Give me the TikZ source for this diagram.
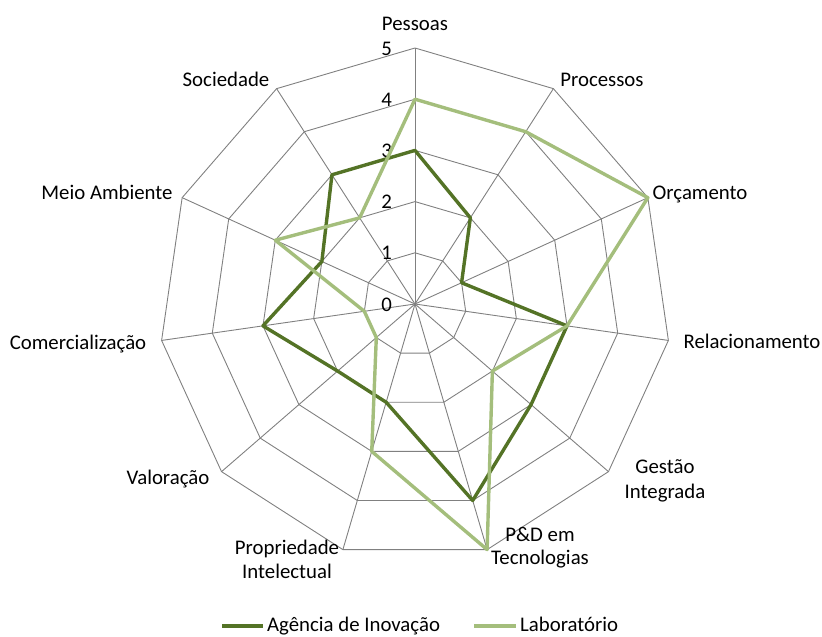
\documentclass[tikz,border=0pt]{standalone}
\usepackage{fontspec}
\setmainfont{Carlito}
\definecolor{gridgray}{RGB}{128,128,128}
\definecolor{darkg}{RGB}{84,115,38}
\definecolor{lightg}{RGB}{164,190,124}
\begin{document}
\begin{tikzpicture}[x=1pt,y=1pt,
  grid/.style={draw=gridgray,line width=0.9pt},
  series/.style={line width=3.4pt,line join=round},
  lbl/.style={font=\fontsize{20.8}{24}\selectfont,inner sep=0pt,anchor=base},
  lblw/.style={font=\fontsize{20.8}{24}\selectfont,inner sep=0pt,anchor=base west},
  tick/.style={font=\fontsize{20.8}{24}\selectfont,inner sep=0pt,anchor=base east}]
\useasboundingbox (0,-637) rectangle (822,0);
\def\u{51.2}
\begin{scope}[shift={(415,-304)}]
  % rings
  \foreach \r in {1,...,5} {
    \draw[grid] (90:{\r*\u}) \foreach \k in {1,...,10} { -- ({90-\k*360/11}:{\r*\u}) } -- cycle;
  }
  % spokes
  \foreach \k in {0,...,10}
    \draw[grid] (0,0) -- ({90-\k*360/11}:{5*\u});
  % tick labels
  \foreach \v in {0,...,5}
    \node[tick] (t\v) at (-23,{\v*\u-7}) {\v};
  % series
  \draw[series,darkg] (90:{3*\u}) \foreach \v [count=\k] in {2,1,3,3,4,2,2,3,2,3} { -- ({90-\k*360/11}:{\v*\u}) } -- cycle;
  \draw[series,lightg] (90:{4*\u}) \foreach \v [count=\k] in {4,5,3,2,5,3,1,1,3,2} { -- ({90-\k*360/11}:{\v*\u}) } -- cycle;
\end{scope}
% axis labels
\node[lbl] (pess) at (415,-30) {Pessoas};
\node[lbl] (proc) at (602,-86) {Processos};
\node[lbl] (orca) at (700,-199) {Orçamento};
\node[lbl] (rela) at (752,-348) {Relacionamento};
\node[lbl] (gest1) at (665,-473) {Gestão};
\node[lbl] (gest2) at (665,-498) {Integrada};
\node[lbl] (ped1) at (540,-541) {P\&D em};
\node[lbl] (ped2) at (540,-564) {Tecnologias};
\node[lbl] (prop1) at (287,-554) {Propriedade};
\node[lbl] (prop2) at (287,-578) {Intelectual};
\node[lbl] (valo) at (168,-484) {Valoração};
\node[lbl] (come) at (78,-349) {Comercialização};
\node[lbl] (meio) at (107,-199) {Meio Ambiente};
\node[lbl] (soci) at (226,-86) {Sociedade};
% legend
\draw[series,darkg,line cap=butt] (222,-626) -- (263,-626);
\node[lblw] (leg1) at (267,-631) {Agência de Inovação};
\draw[series,lightg,line cap=butt] (474,-626) -- (516,-626);
\node[lblw] (leg2) at (520,-631) {Laboratório};
\end{tikzpicture}
\end{document}
